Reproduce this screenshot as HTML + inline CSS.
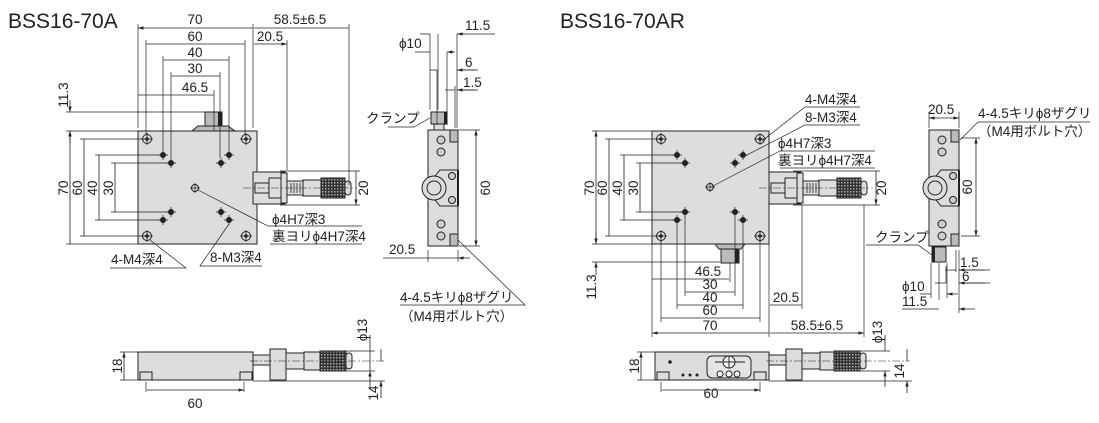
<!DOCTYPE html>
<html><head><meta charset="utf-8"><style>
html,body{margin:0;padding:0;background:#fff}
svg{display:block}
text{font-family:"Liberation Sans","Noto Sans CJK JP",sans-serif;fill:#222}
.t{font-size:13.5px}
.h{font-size:21px}
.d{stroke:#222;stroke-width:0.8;fill:none}
.e{stroke:#222;stroke-width:0.7;fill:none}
.b{stroke:#222;stroke-width:1;fill:#ddd}
</style></head><body>
<svg width="1099" height="423" viewBox="0 0 1099 423" xmlns="http://www.w3.org/2000/svg">
<defs>
<marker id="a" viewBox="0 0 10 10" refX="10" refY="5" markerWidth="7" markerHeight="7" orient="auto-start-reverse"><path d="M0,2 L10,5 L0,8 z" fill="#222"/></marker>
<pattern id="k" width="3" height="3" patternUnits="userSpaceOnUse"><rect width="3" height="3" fill="#333"/><rect width="1.5" height="1.5" fill="#aaa"/></pattern>
<g id="m4"><circle r="4.5" fill="#ddd" stroke="#222"/><circle r="1.8" fill="#222"/><path d="M-6,0H6M0,-6V6" stroke="#222" stroke-width=".8"/></g>
<g id="m3"><circle r="3" fill="#222"/><path d="M-5,0H5M0,-5V5" stroke="#222" stroke-width=".7"/></g>
<g id="mic">
<rect x="0" y="-16" width="32" height="32" class="b"/>
<rect x="2" y="-5" width="14" height="10" class="b"/>
<rect x="16" y="-10" width="12" height="20" class="b"/>
<rect x="28" y="-15" width="6" height="30" class="b"/>
<rect x="34" y="-7" width="16" height="14" class="b"/>
<path d="M38,-5V5M41,-5V5M44,-5V5M47,-5V5" stroke="#222" stroke-width=".8"/>
<rect x="50" y="-8" width="18" height="16" class="b"/>
<rect x="68" y="-10" width="24" height="20" fill="url(#k)" stroke="#222"/>
<rect x="92" y="-7" width="6" height="14" rx="3" class="b"/>
<path d="M-10,0H104" stroke="#222" stroke-width=".6" stroke-dasharray="8,2,2,2"/>
</g>
<g id="side">
<rect x="0" y="0" width="30" height="116" class="b"/>
<rect x="22" y="0" width="8" height="12" fill="#bbb" stroke="#222"/>
<rect x="22" y="104" width="8" height="12" fill="#bbb" stroke="#222"/>
<circle cx="13" cy="10" r="4" fill="#ccc" stroke="#222"/><circle cx="13" cy="22" r="4" fill="#ccc" stroke="#222"/>
<circle cx="13" cy="94" r="4" fill="#ccc" stroke="#222"/><circle cx="13" cy="106" r="4" fill="#ccc" stroke="#222"/>
<path d="M4,50 L12,40 H30 V76 H12 L4,66Z" class="b"/>
<circle cx="6" cy="58" r="12" fill="#ddd" stroke="#222"/><circle cx="6" cy="58" r="7" fill="none" stroke="#222"/>
<circle cx="24" cy="46" r="3.5" fill="#ccc" stroke="#222"/><circle cx="24" cy="70" r="3.5" fill="#ccc" stroke="#222"/>
<rect x="29" y="40" width="2" height="36" fill="#222"/>
</g>
</defs>

<text x="8" y="28" class="h">BSS16-70A</text>
<text x="560" y="28" class="h">BSS16-70AR</text>

<!-- ===== LEFT TOP VIEW ===== -->
<rect x="138" y="131" width="119" height="113" class="b"/>
<path d="M192,131 L198,126 H228 L235,131Z" fill="#bbb" stroke="#222"/>
<rect x="205" y="112" width="17" height="14" fill="#bbb" stroke="#222"/><rect x="218" y="112" width="4" height="14" fill="#222"/>
<use href="#m4" x="147" y="139"/><use href="#m4" x="246" y="139"/><use href="#m4" x="147" y="236"/><use href="#m4" x="246" y="236"/>
<use href="#m3" x="163" y="155"/><use href="#m3" x="229" y="155"/><use href="#m3" x="171" y="163"/><use href="#m3" x="221" y="163"/>
<use href="#m3" x="171" y="212"/><use href="#m3" x="221" y="212"/><use href="#m3" x="163" y="220"/><use href="#m3" x="229" y="220"/>
<circle cx="195" cy="188" r="3.5" fill="none" stroke="#222"/><path d="M190,188H200M195,183V193" stroke="#222" stroke-width=".7"/>
<use href="#mic" x="253" y="188"/>
<path class="e" d="M138,24V128 M253,24V128 M146,40V135 M245,40V135 M163,56V150 M229,56V150 M171,72V158 M220,72V158 M214,90V131 M287,40V170 M349,24V185"/>
<path class="d" d="M138,28H253 M146,44H245 M163,60H229 M171,76H220 M138,95H214 M254,28H349 M254,44H287" marker-start="url(#a)" marker-end="url(#a)"/>
<text x="195" y="24" class="t" text-anchor="middle">70</text>
<text x="195" y="41" class="t" text-anchor="middle">60</text>
<text x="195" y="57" class="t" text-anchor="middle">40</text>
<text x="195" y="73" class="t" text-anchor="middle">30</text>
<text x="195" y="92" class="t" text-anchor="middle">46.5</text>
<text x="300" y="24" class="t" text-anchor="middle">58.5±6.5</text>
<text x="270" y="41" class="t" text-anchor="middle">20.5</text>
<path class="e" d="M66,131H138 M66,244H138 M80,139H146 M80,236H146 M95,155H160 M95,220H160 M111,163H168 M111,212H168 M66,112H205 M280,171H360 M280,205H360"/>
<path class="d" d="M70,131V244 M84,139V236 M99,155V220 M115,163V212 M356,171V205" marker-start="url(#a)" marker-end="url(#a)"/>
<path class="d" d="M70,100V112" marker-end="url(#a)"/>
<path class="d" d="M70,143V131" marker-end="url(#a)"/>
<text transform="translate(68,188) rotate(-90)" class="t" text-anchor="middle">70</text>
<text transform="translate(82,188) rotate(-90)" class="t" text-anchor="middle">60</text>
<text transform="translate(97,188) rotate(-90)" class="t" text-anchor="middle">40</text>
<text transform="translate(113,188) rotate(-90)" class="t" text-anchor="middle">30</text>
<text transform="translate(68,95) rotate(-90)" class="t" text-anchor="middle">11.3</text>
<text transform="translate(368,188) rotate(-90)" class="t" text-anchor="middle">20</text>
<path class="e" d="M198,190 L268,226 H362 M270,244 H362 M150,240 L186,268 H110 M229,224 L200,266 H262"/>
<text x="272" y="224" class="t">ϕ4H7深3</text>
<text x="272" y="241" class="t">裏ヨリϕ4H7深4</text>
<text x="111" y="264" class="t">4-M4深4</text>
<text x="210" y="262" class="t">8-M3深4</text>

<!-- ===== LEFT SIDE VIEW ===== -->
<use href="#side" x="428" y="130"/>
<rect x="431" y="112" width="16" height="12" fill="#bbb" stroke="#222"/><rect x="444" y="112" width="3" height="12" fill="#222"/>
<rect x="434" y="124" width="10" height="6" class="b"/>
<path class="e" d="M430,34V110 M438,34V110 M447,52V125 M437,70V125 M457,34V128 M455,86V128 M459,130H480 M459,246H480 M428,250V262 M458,250V262"/>
<path class="d" d="M420,34H430 M465,34H457" marker-end="url(#a)"/>
<path class="d" d="M415,52H430 M455,52H447" marker-end="url(#a)"/>
<path class="d" d="M430,70H437 M475,70H457" marker-end="url(#a)"/>
<path class="d" d="M445,90H455 M475,90H457" marker-end="url(#a)"/>
<path class="d" d="M457,34H495 M457,70H478 M457,90H478"/>
<path class="d" d="M476,130V246" marker-start="url(#a)" marker-end="url(#a)"/>
<path class="d" d="M383,258H428 M470,258H458" marker-end="url(#a)"/>
<path class="e" d="M428,258H458 M388,127H414 L430,118 M458,240 L525,305 H400"/>
<text x="465" y="30" class="t">11.5</text>
<text x="399" y="48" class="t">ϕ10</text>
<text x="465" y="67" class="t">6</text>
<text x="463" y="87" class="t">1.5</text>
<text transform="translate(490,188) rotate(-90)" class="t" text-anchor="middle">60</text>
<text x="389" y="254" class="t">20.5</text>
<text x="366" y="123" class="t">クランプ</text>
<text x="400" y="302" class="t">4-4.5キリϕ8ザグリ</text>
<text x="400" y="321" class="t">（M4用ボルト穴）</text>

<!-- ===== LEFT FRONT VIEW ===== -->
<rect x="138" y="352" width="115" height="28" class="b"/>
<rect x="140" y="372" width="12" height="8" class="b"/><rect x="240" y="372" width="12" height="8" class="b"/>
<rect x="270" y="349" width="16" height="31" class="b"/>
<rect x="253" y="355" width="17" height="10" class="b"/>
<rect x="286" y="353" width="18" height="16" class="b"/>
<rect x="304" y="352" width="16" height="18" class="b"/>
<rect x="320" y="351" width="26" height="20" fill="url(#k)" stroke="#222"/>
<rect x="346" y="353" width="6" height="16" rx="3" class="b"/>
<path d="M250,361H385" stroke="#222" stroke-width=".6" stroke-dasharray="8,2,2,2"/>
<path class="e" d="M120,352H138 M120,380H138 M253,381H385 M346,351H375 M346,371H375 M146,382V392 M244,382V392"/>
<path class="d" d="M124,352V380 M147,390H244" marker-start="url(#a)" marker-end="url(#a)"/>
<path class="d" d="M370,335V351 M370,387V371" marker-end="url(#a)"/>
<path class="d" d="M381,349V361 M381,398V381" marker-end="url(#a)"/>
<path class="d" d="M370,351V371"/>
<text transform="translate(122,366) rotate(-90)" class="t" text-anchor="middle">18</text>
<text x="195" y="408" class="t" text-anchor="middle">60</text>
<text transform="translate(367,330) rotate(-90)" class="t" text-anchor="middle">ϕ13</text>
<text transform="translate(378,393) rotate(-90)" class="t" text-anchor="middle">14</text>

<!-- ===== RIGHT TOP VIEW ===== -->
<rect x="652" y="131" width="117" height="113" class="b"/>
<path d="M715,244 L719,249 H741 L745,244Z" fill="#bbb" stroke="#222"/>
<rect x="721" y="249" width="18" height="14" fill="#bbb" stroke="#222"/><rect x="735" y="249" width="4" height="14" fill="#222"/>
<use href="#m4" x="661" y="139"/><use href="#m4" x="760" y="139"/><use href="#m4" x="661" y="236"/><use href="#m4" x="760" y="236"/>
<use href="#m3" x="677" y="155"/><use href="#m3" x="743" y="155"/><use href="#m3" x="685" y="163"/><use href="#m3" x="735" y="163"/>
<use href="#m3" x="685" y="212"/><use href="#m3" x="735" y="212"/><use href="#m3" x="677" y="220"/><use href="#m3" x="743" y="220"/>
<circle cx="710" cy="187" r="3.5" fill="none" stroke="#222"/><path d="M705,187H715M710,182V192" stroke="#222" stroke-width=".7"/>
<use href="#mic" x="769" y="188"/>
<path class="e" d="M592,131H652 M592,244H652 M605,139H660 M605,236H660 M620,155H674 M620,220H674 M636,163H682 M636,212H682 M592,262H720 M793,171H880 M793,205H880"/>
<path class="d" d="M596,131V244 M609,139V236 M624,155V220 M640,163V212 M876,171V205" marker-start="url(#a)" marker-end="url(#a)"/>
<path class="d" d="M596,275V262" marker-end="url(#a)"/>
<path class="d" d="M596,232V244" marker-end="url(#a)"/>
<text transform="translate(594,188) rotate(-90)" class="t" text-anchor="middle">70</text>
<text transform="translate(607,188) rotate(-90)" class="t" text-anchor="middle">60</text>
<text transform="translate(622,188) rotate(-90)" class="t" text-anchor="middle">40</text>
<text transform="translate(638,188) rotate(-90)" class="t" text-anchor="middle">30</text>
<text transform="translate(596,287) rotate(-90)" class="t" text-anchor="middle">11.3</text>
<text transform="translate(886,188) rotate(-90)" class="t" text-anchor="middle">20</text>
<path class="e" d="M652,244V337 M769,244V337 M661,240V322 M760,240V322 M677,224V309 M743,224V309 M685,216V296 M735,216V296 M730,263V282 M802,205V309 M864,205V337"/>
<path class="d" d="M652,333H769 M661,318H760 M677,305H743 M685,292H735 M652,279H729 M770,305H802 M770,333H864" marker-start="url(#a)" marker-end="url(#a)"/>
<text x="710" y="330" class="t" text-anchor="middle">70</text>
<text x="710" y="315" class="t" text-anchor="middle">60</text>
<text x="710" y="302" class="t" text-anchor="middle">40</text>
<text x="710" y="289" class="t" text-anchor="middle">30</text>
<text x="708" y="276" class="t" text-anchor="middle">46.5</text>
<text x="786" y="302" class="t" text-anchor="middle">20.5</text>
<text x="817" y="330" class="t" text-anchor="middle">58.5±6.5</text>
<path class="e" d="M762,141 L805,107 H860 M745,156 L805,125 H860 M711,187 L780,151 H875 M780,168 H875"/>
<text x="805" y="104" class="t">4-M4深4</text>
<text x="805" y="122" class="t">8-M3深4</text>
<text x="778" y="148" class="t">ϕ4H7深3</text>
<text x="778" y="165" class="t">裏ヨリϕ4H7深4</text>

<!-- ===== RIGHT SIDE VIEW ===== -->
<use href="#side" x="929" y="130"/>
<rect x="932" y="247" width="14" height="15" fill="#bbb" stroke="#222"/><rect x="932" y="247" width="3" height="15" fill="#222"/>
<path class="e" d="M929,112V128 M959,112V128 M961,138H980 M961,236H980 M931,263V298 M939,263V300 M947,263V298 M946,266V283 M959,250V313 M956,250V272"/>
<path class="d" d="M929,118H959" marker-start="url(#a)" marker-end="url(#a)"/>
<path class="d" d="M976,138V236" marker-start="url(#a)" marker-end="url(#a)"/>
<path class="d" d="M945,270H956 M985,270H959" marker-end="url(#a)"/>
<path class="d" d="M935,283H946 M985,283H959" marker-end="url(#a)"/>
<path class="d" d="M920,294H931 M958,294H947" marker-end="url(#a)"/>
<path class="d" d="M902,309H939 M975,309H959" marker-end="url(#a)"/>
<path class="e" d="M959,270H990 M959,283H990 M960,140 L978,122 H1090 M866,245H918 L932,255"/>
<text x="928" y="114" class="t">20.5</text>
<text x="978" y="118" class="t">4-4.5キリϕ8ザグリ</text>
<text x="978" y="136" class="t">（M4用ボルト穴）</text>
<text transform="translate(972,187) rotate(-90)" class="t" text-anchor="middle">60</text>
<text x="875" y="242" class="t">クランプ</text>
<text x="960" y="267" class="t">1.5</text>
<text x="962" y="281" class="t">6</text>
<text x="902" y="291" class="t">ϕ10</text>
<text x="902" y="306" class="t">11.5</text>

<!-- ===== RIGHT FRONT VIEW ===== -->
<rect x="655" y="352" width="114" height="28" class="b"/>
<rect x="657" y="372" width="12" height="8" class="b"/><rect x="754" y="372" width="12" height="8" class="b"/>
<rect x="707" y="356" width="44" height="22" rx="5" fill="#e4e4e4" stroke="#222"/>
<circle cx="729" cy="362" r="6" fill="#fff" stroke="#222"/><path d="M715,362H745M729,356V368" stroke="#222"/>
<circle cx="720" cy="374" r="3" fill="#fff" stroke="#222"/><circle cx="729" cy="374" r="3" fill="#fff" stroke="#222"/><circle cx="737" cy="374" r="3" fill="#fff" stroke="#222"/>
<circle cx="670" cy="362" r="1.8" fill="#222"/>
<circle cx="683" cy="375" r="1.5" fill="#222"/><circle cx="690" cy="375" r="1.5" fill="#222"/><circle cx="697" cy="375" r="1.5" fill="#222"/>
<rect x="786" y="349" width="16" height="31" class="b"/>
<rect x="769" y="355" width="17" height="10" class="b"/>
<rect x="802" y="353" width="18" height="16" class="b"/>
<rect x="820" y="352" width="14" height="18" class="b"/>
<rect x="834" y="351" width="26" height="20" fill="url(#k)" stroke="#222"/>
<rect x="860" y="353" width="6" height="16" rx="3" class="b"/>
<path d="M766,361H910" stroke="#222" stroke-width=".6" stroke-dasharray="8,2,2,2"/>
<path class="e" d="M637,352H655 M637,380H655 M769,381H912 M860,351H890 M860,371H890 M661,382V392 M760,382V392"/>
<path class="d" d="M641,352V380 M662,390H760" marker-start="url(#a)" marker-end="url(#a)"/>
<path class="d" d="M885,335V351 M885,387V371" marker-end="url(#a)"/>
<path class="d" d="M907,349V361 M907,393V381" marker-end="url(#a)"/>
<text transform="translate(639,366) rotate(-90)" class="t" text-anchor="middle">18</text>
<text x="711" y="398" class="t" text-anchor="middle">60</text>
<text transform="translate(882,332) rotate(-90)" class="t" text-anchor="middle">ϕ13</text>
<text transform="translate(904,371) rotate(-90)" class="t" text-anchor="middle">14</text>
</svg>
</body></html>
